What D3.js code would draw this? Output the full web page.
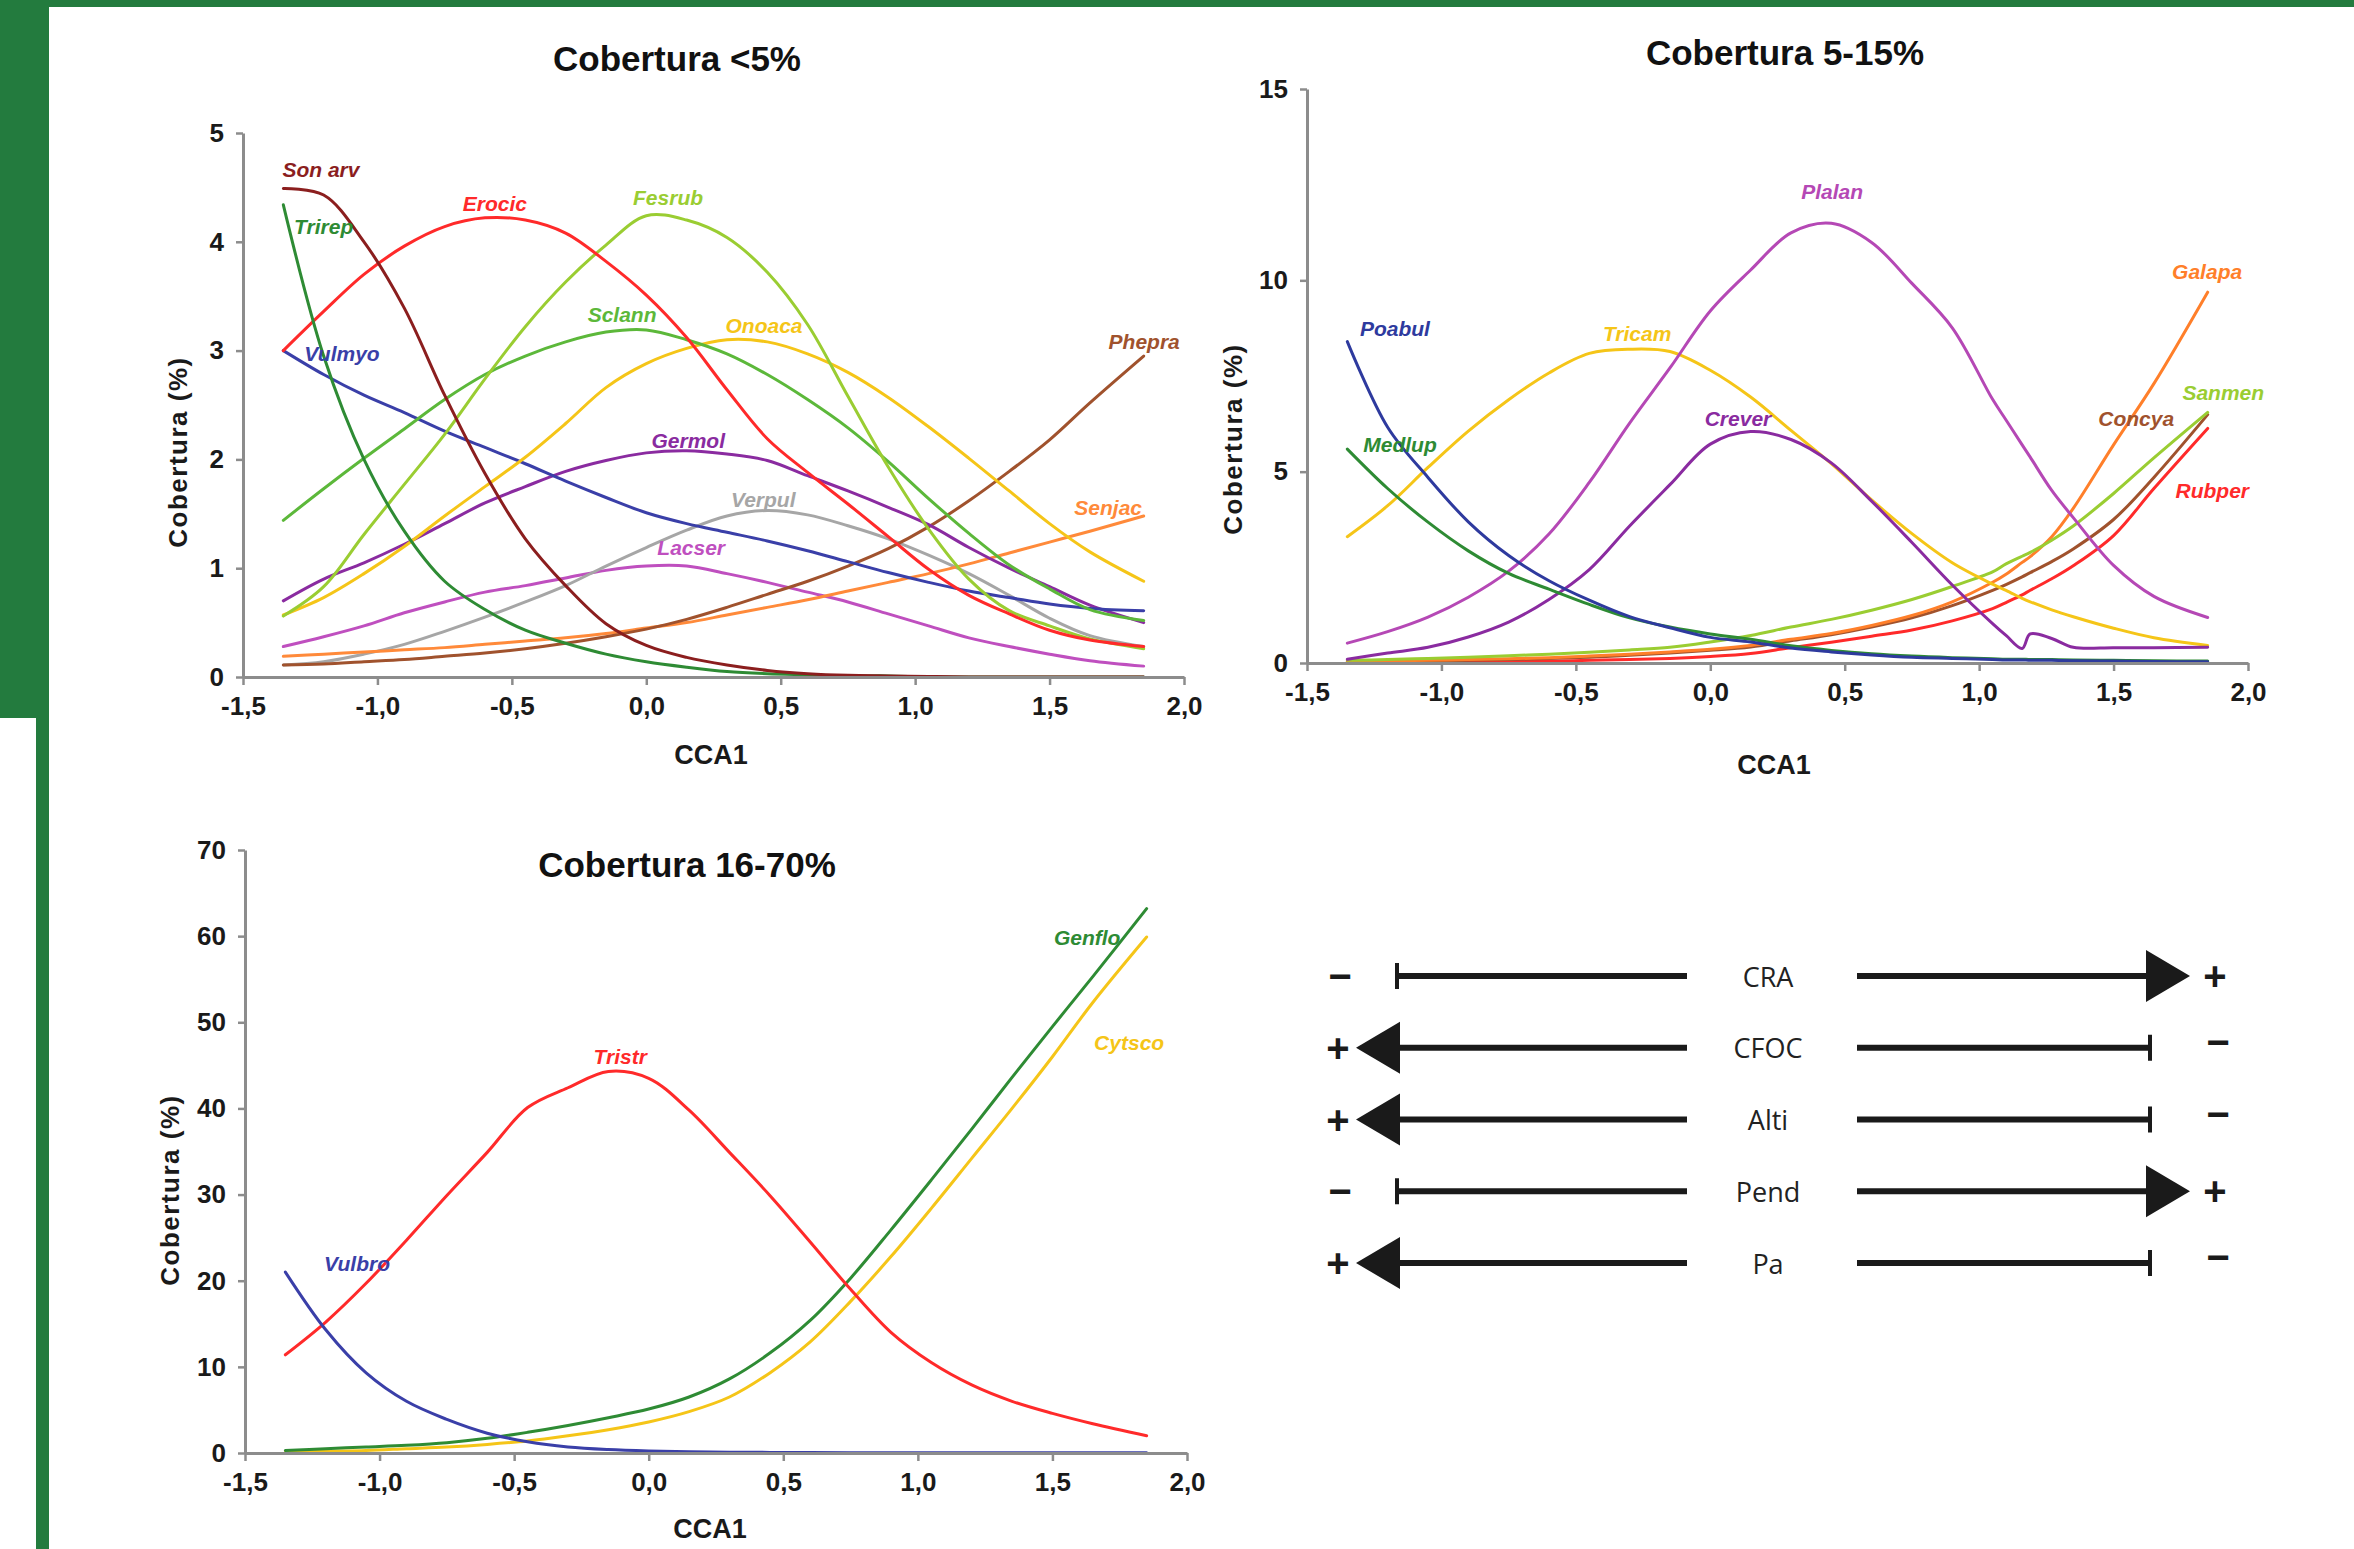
<!DOCTYPE html>
<html><head><meta charset="utf-8">
<script src="https://cdn.jsdelivr.net/npm/d3@7"></script>
<style>body{margin:0;background:#fff} svg{display:block}</style>
</head><body>
<svg id="c" width="2354" height="1549"></svg>
<script>
// ---------- DATA ----------
const xTickValues = [-1.5, -1, -0.5, 0, 0.5, 1, 1.5, 2];

// Chart 1: Cobertura <5%
const cca1Small = [-1.35,-1.2,-1.05,-0.9,-0.75,-0.6,-0.45,-0.3,-0.15,0,0.15,0.3,0.45,0.6,0.75,0.9,1.05,1.2,1.35,1.5,1.65,1.85];
const yTicksSmall = [0,1,2,3,4,5];
const sonArv = [4.49,4.43,4.00,3.39,2.59,1.87,1.27,0.84,0.49,0.29,0.18,0.11,0.06,0.03,0.015,0.01,0.005,0,0,0,0,0];
const trirep = [4.34,2.95,2.0,1.34,0.88,0.62,0.43,0.31,0.21,0.14,0.09,0.05,0.03,0.02,0.01,0.01,0,0,0,0,0,0];
const erocic = [3.0,3.36,3.70,3.96,4.14,4.22,4.20,4.08,3.82,3.51,3.12,2.64,2.19,1.88,1.59,1.29,0.99,0.75,0.58,0.43,0.34,0.28];
const fesrub = [0.56,0.83,1.31,1.77,2.23,2.74,3.22,3.63,3.97,4.24,4.20,4.04,3.72,3.24,2.58,1.93,1.36,0.90,0.61,0.47,0.35,0.26];
const sclann = [1.44,1.73,2.01,2.28,2.55,2.78,2.95,3.08,3.17,3.19,3.10,2.97,2.78,2.55,2.29,1.98,1.64,1.32,1.03,0.81,0.62,0.52];
const onoaca = [0.57,0.73,0.95,1.20,1.48,1.75,2.02,2.33,2.66,2.88,3.02,3.10,3.08,2.97,2.80,2.57,2.30,2.01,1.71,1.41,1.15,0.88];
const vulmyo = [3.0,2.78,2.59,2.43,2.26,2.11,1.96,1.80,1.65,1.51,1.41,1.33,1.25,1.16,1.06,0.96,0.87,0.79,0.73,0.67,0.63,0.61];
const germol = [0.70,0.90,1.05,1.22,1.41,1.60,1.75,1.89,1.99,2.06,2.08,2.05,1.99,1.85,1.71,1.56,1.40,1.19,1.00,0.83,0.66,0.50];
const verpul = [0.11,0.14,0.21,0.30,0.42,0.55,0.69,0.84,1.02,1.19,1.35,1.48,1.53,1.49,1.39,1.27,1.12,0.95,0.75,0.54,0.38,0.28];
const lacser = [0.28,0.37,0.47,0.59,0.69,0.78,0.84,0.91,0.98,1.02,1.02,0.95,0.87,0.78,0.69,0.58,0.47,0.36,0.28,0.21,0.15,0.10];
const phepra = [0.11,0.12,0.14,0.16,0.19,0.22,0.26,0.31,0.37,0.44,0.53,0.64,0.76,0.88,1.02,1.18,1.38,1.62,1.89,2.18,2.52,2.95];
const senjac = [0.19,0.21,0.23,0.25,0.27,0.30,0.33,0.36,0.40,0.45,0.50,0.57,0.64,0.71,0.79,0.87,0.95,1.04,1.14,1.24,1.34,1.48];

// Chart 2: Cobertura 5-15%
const cca1Mid = [-1.35,-1.2,-1.05,-0.9,-0.75,-0.6,-0.45,-0.3,-0.15,0,0.15,0.3,0.45,0.6,0.75,0.9,1.05,1.1,1.16,1.19,1.27,1.35,1.5,1.65,1.85];
const yTicksMid = [0,5,10,15];
const poabul = [8.4,6.16,4.85,3.69,2.81,2.15,1.64,1.21,0.92,0.67,0.55,0.39,0.29,0.21,0.15,0.12,0.09,0.08,0.08,0.07,0.07,0.06,0.05,0.04,0.03];
const medlup = [5.59,4.56,3.68,2.93,2.34,1.93,1.53,1.18,0.94,0.76,0.62,0.45,0.33,0.24,0.18,0.14,0.11,0.10,0.10,0.09,0.09,0.08,0.07,0.06,0.05];
const tricam = [3.3,4.11,5.11,6.06,6.88,7.58,8.09,8.20,8.14,7.65,6.95,6.08,5.21,4.26,3.38,2.62,2.06,1.90,1.69,1.60,1.39,1.21,0.91,0.66,0.46];
const crever = [0.10,0.26,0.41,0.68,1.07,1.66,2.44,3.58,4.66,5.72,6.05,5.84,5.23,4.23,3.15,2.04,1.03,0.72,0.38,0.76,0.64,0.41,0.40,0.40,0.41];
const plalan = [0.52,0.82,1.20,1.72,2.40,3.37,4.72,6.27,7.71,9.20,10.27,11.24,11.49,10.99,9.92,8.76,6.89,6.35,5.70,5.38,4.51,3.80,2.55,1.74,1.19];
const galapa = [0.04,0.05,0.07,0.09,0.11,0.14,0.18,0.23,0.29,0.36,0.46,0.62,0.77,0.98,1.24,1.60,2.11,2.32,2.63,2.78,3.30,4.04,5.70,7.30,9.69];
const sanmen = [0.07,0.09,0.12,0.15,0.19,0.23,0.28,0.34,0.41,0.55,0.72,0.94,1.14,1.38,1.66,2.00,2.38,2.59,2.79,2.89,3.21,3.58,4.43,5.36,6.55];
const concya = [0.03,0.04,0.05,0.07,0.09,0.12,0.15,0.20,0.26,0.33,0.42,0.58,0.74,0.94,1.18,1.50,1.90,2.05,2.25,2.36,2.65,2.98,3.75,4.85,6.49];
const rubper = [0.01,0.02,0.02,0.03,0.04,0.05,0.07,0.09,0.12,0.17,0.25,0.40,0.54,0.70,0.86,1.10,1.42,1.58,1.78,1.90,2.20,2.54,3.33,4.56,6.13];

// Chart 3: Cobertura 16-70%
const cca1Big = [-1.35,-1.2,-1.05,-0.9,-0.75,-0.6,-0.45,-0.3,-0.15,0,0.15,0.3,0.45,0.6,0.75,0.9,1.05,1.2,1.35,1.5,1.65,1.85];
const yTicksBig = [0,10,20,30,40,50,60,70];
const vulbro = [21.0,14.3,9.3,6.0,3.9,2.3,1.3,0.7,0.4,0.24,0.15,0.1,0.07,0.05,0.04,0.03,0.03,0.02,0.02,0.02,0.02,0.02];
const tristr = [11.4,15.2,19.7,24.7,29.9,34.9,40.1,42.4,44.3,43.5,39.8,34.9,29.9,24.5,19.0,14.0,10.5,7.9,6.0,4.6,3.4,2.0];
const genflo = [0.3,0.5,0.7,0.9,1.2,1.7,2.4,3.2,4.1,5.1,6.5,8.6,11.6,15.4,20.3,25.9,31.7,37.6,43.6,49.5,55.3,63.2];
const cytsco = [0.1,0.2,0.3,0.5,0.7,1.0,1.4,2.0,2.7,3.6,4.8,6.5,9.3,12.9,17.6,22.8,28.4,34.2,40.0,46.0,52.3,59.9];

// Species label anchors (data coordinates)
const labelsSmall = [
  ["Son arv", -1.21, 4.66], ["Trirep", -1.20, 4.14], ["Erocic", -0.563, 4.35], ["Fesrub", 0.081, 4.41],
  ["Sclann", -0.09, 3.33], ["Onoaca", 0.438, 3.23], ["Vulmyo", -1.132, 2.97], ["Germol", 0.156, 2.17],
  ["Verpul", 0.435, 1.63], ["Lacser", 0.167, 1.19], ["Phepra", 1.852, 3.08], ["Senjac", 1.718, 1.56]
];
const labelsMid = [
  ["Poabul", -1.173, 8.73], ["Medlup", -1.154, 5.72], ["Tricam", -0.272, 8.62], ["Crever", 0.103, 6.38],
  ["Plalan", 0.453, 12.31], ["Galapa", 1.848, 10.22], ["Sanmen", 1.908, 7.06], ["Concya", 1.584, 6.38],
  ["Rubper", 1.867, 4.52]
];
const labelsBig = [["Vulbro", -1.084, 21.95], ["Tristr", -0.106, 46.0], ["Genflo", 1.629, 59.8], ["Cytsco", 1.785, 47.6]];

// Gradient legend
const legendVars = ["CRA", "CFOC", "Alti", "Pend", "Pa"];
const legendDir = [1, -1, -1, 1, -1];

// ---------- STYLE ----------
const C = {
  maroon: "#8B1E1E", dgreen: "#2E8B34", red: "#FF2A2A", ygreen: "#9ACD32", green: "#5CB83A",
  gold: "#F5C518", blue: "#3A3FA8", purple: "#8A2BA0", grey: "#A6A6A6", orchid: "#BF4FBF",
  sienna: "#A0522D", orange: "#FF8A3A"
};
const seriesSmall = [
  ["Lacser", lacser, C.orchid], ["Verpul", verpul, C.grey], ["Senjac", senjac, C.orange], ["Phepra", phepra, C.sienna],
  ["Germol", germol, C.purple], ["Vulmyo", vulmyo, C.blue], ["Onoaca", onoaca, C.gold], ["Sclann", sclann, C.green],
  ["Fesrub", fesrub, C.ygreen], ["Erocic", erocic, C.red], ["Trirep", trirep, C.dgreen], ["Son arv", sonArv, C.maroon]
];
const seriesMid = [
  ["Rubper", rubper, C.red], ["Concya", concya, C.sienna], ["Galapa", galapa, "#FF7F2A"], ["Sanmen", sanmen, C.ygreen],
  ["Tricam", tricam, C.gold], ["Plalan", plalan, "#B548B5"], ["Crever", crever, C.purple],
  ["Medlup", medlup, C.dgreen], ["Poabul", poabul, "#2E3A9E"]
];
const seriesBig = [["Cytsco", cytsco, C.gold], ["Genflo", genflo, C.dgreen], ["Tristr", tristr, C.red], ["Vulbro", vulbro, C.blue]];

const svg = d3.select("#c");
svg.append("rect").attr("width", 2354).attr("height", 1549).attr("fill", "#fff");
const frameGreen = "#237B3E";
svg.append("rect").attr("x", 0).attr("y", 0).attr("width", 2354).attr("height", 7).attr("fill", frameGreen);
svg.append("rect").attr("x", 0).attr("y", 0).attr("width", 49).attr("height", 718).attr("fill", frameGreen);
svg.append("rect").attr("x", 36).attr("y", 718).attr("width", 13).attr("height", 831).attr("fill", frameGreen);

const FONT = "'Liberation Sans', Arial, Helvetica, sans-serif";
const fmtX = d => d3.format(".1f")(d).replace(".", ",").replace("\u2212", "-");

function drawChart(cfg) {
  const g = svg.append("g");
  const x = d3.scaleLinear().domain([-1.5, 2]).range([cfg.x0, cfg.x1]);
  const y = d3.scaleLinear().domain([0, cfg.yMax]).range([cfg.y0, cfg.y1]);

  const line = d3.line().x((d, i) => x(cfg.xs[i])).y(d => y(Math.max(0, d)))
    .curve(d3.curveCatmullRom.alpha(0.5));
  cfg.series.forEach(([name, vals, col]) => {
    g.append("path").attr("d", line(vals)).attr("fill", "none").attr("stroke", col)
      .attr("stroke-width", 3).attr("stroke-linejoin", "round").attr("stroke-linecap", "round");
  });

  const ax = g.append("g").attr("transform", `translate(0,${cfg.y0})`)
    .call(d3.axisBottom(x).tickValues(xTickValues).tickSize(8).tickSizeOuter(0).tickPadding(12).tickFormat(fmtX));
  const ay = g.append("g").attr("transform", `translate(${cfg.x0},0)`)
    .call(d3.axisLeft(y).tickValues(cfg.yTicks).tickSize(7).tickSizeOuter(0).tickPadding(12).tickFormat(d3.format("d")));
  [ax, ay].forEach(a => {
    a.select(".domain").attr("stroke", "#8c8c8c").attr("stroke-width", 3);
    a.selectAll(".tick line").attr("stroke", "#8c8c8c").attr("stroke-width", 2.5);
    a.selectAll(".tick text").attr("font-family", FONT).attr("font-weight", "bold").attr("font-size", 26).attr("fill", "#1a1a1a");
  });

  cfg.labels.forEach(([t, lx, lyv]) => {
    const col = cfg.series.find(s => s[0] === t)[2];
    g.append("text").attr("x", x(lx)).attr("y", y(lyv)).attr("text-anchor", "middle").attr("dominant-baseline", "central")
      .attr("font-family", FONT).attr("font-weight", "bold").attr("font-style", "italic").attr("font-size", 21)
      .attr("fill", col).text(t);
  });

  g.append("text").attr("x", cfg.titleX).attr("y", cfg.titleY).attr("text-anchor", "middle")
    .attr("font-family", FONT).attr("font-weight", "bold").attr("font-size", 35).attr("fill", "#111").text(cfg.title);
  g.append("text").attr("x", cfg.xlabX).attr("y", cfg.xlabY).attr("text-anchor", "middle")
    .attr("font-family", FONT).attr("font-weight", "bold").attr("font-size", 27).attr("fill", "#1a1a1a").text("CCA1");
  g.append("text").attr("transform", `translate(${cfg.ylabX},${cfg.ylabY}) rotate(-90)`).attr("text-anchor", "middle")
    .attr("dominant-baseline", "central").attr("font-family", FONT).attr("font-weight", "bold").attr("font-size", 26)
    .attr("letter-spacing", 1.5).attr("fill", "#1a1a1a").text("Cobertura (%)");
}

drawChart({ x0: 243, x1: 1184, y0: 677, y1: 133, yMax: 5, xs: cca1Small, yTicks: yTicksSmall, series: seriesSmall,
  labels: labelsSmall, title: "Cobertura <5%", titleX: 677, titleY: 71, xlabX: 711, xlabY: 764, ylabX: 178, ylabY: 452 });
drawChart({ x0: 1307, x1: 2248, y0: 663, y1: 89, yMax: 15, xs: cca1Mid, yTicks: yTicksMid, series: seriesMid,
  labels: labelsMid, title: "Cobertura 5-15%", titleX: 1785, titleY: 65, xlabX: 1774, xlabY: 774, ylabX: 1233, ylabY: 439 });
drawChart({ x0: 245, x1: 1187, y0: 1453, y1: 850, yMax: 70, xs: cca1Big, yTicks: yTicksBig, series: seriesBig,
  labels: labelsBig, title: "Cobertura 16-70%", titleX: 687, titleY: 877, xlabX: 710, xlabY: 1538, ylabX: 170, ylabY: 1190 });

// ---------- Legend (gradient arrows) ----------
const lg = svg.append("g");
const ly = d3.scalePoint().domain(legendVars).range([976, 1263]);
const ink = "#1a1a1a";
legendVars.forEach((v, i) => {
  const yy = ly(v), dir = legendDir[i];
  lg.append("line").attr("x1", 1398).attr("x2", 1687).attr("y1", yy).attr("y2", yy).attr("stroke", ink).attr("stroke-width", 6);
  lg.append("line").attr("x1", 1857).attr("x2", 2150).attr("y1", yy).attr("y2", yy).attr("stroke", ink).attr("stroke-width", 6);
  lg.append("text").attr("x", 1768).attr("y", yy).attr("text-anchor", "middle").attr("dominant-baseline", "central")
    .attr("font-family", "'Open Sans', 'Liberation Sans', sans-serif").attr("font-size", 27).attr("fill", "#222").text(v);
  const sign = (t, sx, sy) => lg.append("text").attr("x", sx).attr("y", sy).attr("text-anchor", "middle")
    .attr("dominant-baseline", "central").attr("font-family", FONT).attr("font-weight", "bold").attr("font-size", 40)
    .attr("fill", ink).text(t);
  if (dir > 0) {
    lg.append("rect").attr("x", 1395).attr("y", yy - 13).attr("width", 4).attr("height", 26).attr("fill", ink);
    lg.append("path").attr("d", `M2146,${yy - 26} L2190,${yy} L2146,${yy + 26} Z`).attr("fill", ink);
    sign("\u2212", 1340, yy);
    sign("+", 2215, yy);
  } else {
    lg.append("path").attr("d", `M1400,${yy - 26} L1356,${yy} L1400,${yy + 26} Z`).attr("fill", ink);
    lg.append("rect").attr("x", 2148).attr("y", yy - 13).attr("width", 4).attr("height", 26).attr("fill", ink);
    sign("+", 1338, yy);
    sign("\u2212", 2218, yy - 6);
  }
});
</script>
</body></html>
